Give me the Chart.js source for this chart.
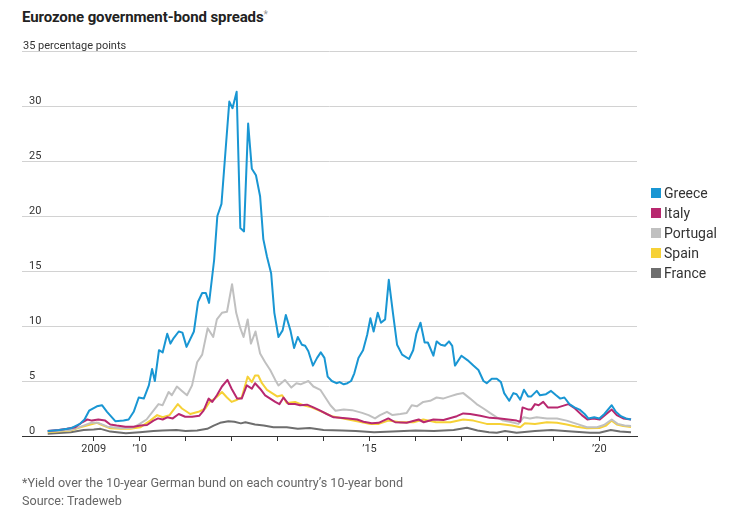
<!DOCTYPE html>
<html>
<head>
<meta charset="utf-8">
<script src="https://cdn.jsdelivr.net/npm/chart.js@4.4.1/dist/chart.umd.min.js"></script>
<style>
  html, body { margin: 0; padding: 0; background: #fff; }
  body { width: 738px; height: 518px; position: relative; overflow: hidden; font-family: Roboto, "Noto Sans", sans-serif; }
  #title { position: absolute; left: 22px; top: 8px; font-size: 15px; font-weight: bold; color: #222; letter-spacing: -0.1px; }
  #title sup { color: #999; font-weight: normal; font-size: 10px; vertical-align: 4px; }
  #chartWrap { position: absolute; left: 0; top: 0; width: 738px; height: 518px; }
  #legend { position: absolute; left: 651px; top: 183px; }
  .li { height: 20px; display: flex; align-items: center; font-size: 14px; color: #333; }
  .sw { width: 10px; height: 10px; margin-right: 3px; }
  #foot { position: absolute; left: 22px; top: 474px; font-size: 12.6px; color: #666; line-height: 18px; }
</style>
</head>
<body>
<div id="title">Eurozone government-bond spreads<sup>*</sup></div>
<div id="chartWrap"><canvas id="c" width="738" height="518"></canvas></div>
<div id="legend"></div>
<div id="foot">*Yield over the 10-year German bund on each country’s 10-year bond<br>Source: Tradeweb</div>
<script>
// ---- Data (years as decimal dates, values in percentage points) ----
const seriesNames = ['Greece', 'Italy', 'Portugal', 'Spain', 'France'];
const seriesColors = ['#1996d3', '#b8286f', '#c0c0c0', '#f6d137', '#6e6e6e'];

const yTickValues = [0, 5, 10, 15, 20, 25, 30, 35];
const yUnitLabel = '35 percentage points';
const xTickYears = [2009, 2010, 2011, 2012, 2013, 2014, 2015, 2016, 2017, 2018, 2019, 2020];
const xTickLabels = {2009: '2009', 2010: '’10', 2015: '’15', 2020: '’20'};

const greeceT = [2008.0, 2008.25, 2008.5, 2008.7, 2008.8, 2008.9, 2009.07, 2009.18, 2009.29, 2009.47, 2009.65, 2009.76, 2009.87, 2009.98, 2010.09, 2010.2, 2010.27, 2010.33, 2010.42, 2010.5, 2010.6, 2010.67, 2010.74, 2010.85, 2010.93, 2011.02, 2011.18, 2011.27, 2011.36, 2011.44, 2011.51, 2011.62, 2011.69, 2011.78, 2011.86, 2011.95, 2012.02, 2012.11, 2012.19, 2012.27, 2012.36, 2012.44, 2012.53, 2012.62, 2012.69, 2012.77, 2012.86, 2012.93, 2013.02, 2013.11, 2013.18, 2013.28, 2013.36, 2013.44, 2013.53, 2013.6, 2013.67, 2013.77, 2013.86, 2013.94, 2014.02, 2014.09, 2014.18, 2014.28, 2014.35, 2014.44, 2014.52, 2014.6, 2014.67, 2014.76, 2014.86, 2014.95, 2015.02, 2015.09, 2015.18, 2015.25, 2015.34, 2015.42, 2015.51, 2015.6, 2015.71, 2015.86, 2015.95, 2016.02, 2016.11, 2016.2, 2016.27, 2016.39, 2016.46, 2016.55, 2016.64, 2016.73, 2016.8, 2016.86, 2017.0, 2017.13, 2017.26, 2017.37, 2017.48, 2017.55, 2017.66, 2017.77, 2017.86, 2017.93, 2018.04, 2018.13, 2018.2, 2018.28, 2018.36, 2018.45, 2018.52, 2018.64, 2018.71, 2018.84, 2018.95, 2019.06, 2019.15, 2019.24, 2019.35, 2019.46, 2019.57, 2019.68, 2019.76, 2019.89, 2020.0, 2020.11, 2020.27, 2020.36, 2020.47, 2020.58, 2020.69];
const greeceV = [0.45, 0.55, 0.7, 1.1, 1.5, 2.3, 2.7, 2.8, 2.2, 1.35, 1.4, 1.5, 2.2, 3.5, 3.4, 4.6, 6.1, 5.0, 7.8, 7.6, 9.3, 8.4, 8.9, 9.5, 9.4, 8.1, 9.5, 12.2, 13.0, 13.0, 12.1, 16.0, 20.0, 21.1, 25.5, 30.4, 29.8, 31.3, 18.9, 18.6, 28.4, 24.3, 23.7, 21.8, 17.9, 16.3, 14.8, 11.2, 9.0, 9.6, 11.0, 9.6, 8.0, 9.0, 8.3, 8.2, 7.7, 6.4, 7.1, 7.6, 7.1, 5.4, 5.0, 4.8, 4.9, 4.7, 4.8, 5.0, 5.7, 7.1, 7.8, 9.2, 10.7, 9.5, 11.2, 10.3, 10.6, 14.2, 11.2, 8.3, 7.4, 7.0, 7.8, 9.3, 10.3, 8.5, 8.5, 7.3, 8.6, 8.3, 8.2, 8.6, 8.2, 6.4, 7.3, 6.9, 6.4, 6.0, 5.0, 4.8, 5.2, 5.2, 4.9, 3.9, 3.2, 3.9, 3.8, 3.3, 4.2, 3.6, 3.6, 4.1, 3.7, 3.8, 4.1, 3.7, 3.4, 3.5, 2.9, 2.6, 2.4, 2.0, 1.6, 1.7, 1.6, 2.0, 2.8, 2.2, 1.8, 1.6, 1.5];

const italyT = [2008.0, 2008.24, 2008.42, 2008.6, 2008.75, 2008.86, 2008.96, 2009.1, 2009.25, 2009.36, 2009.5, 2009.69, 2009.87, 2010.02, 2010.16, 2010.3, 2010.4, 2010.5, 2010.6, 2010.72, 2010.85, 2010.99, 2011.14, 2011.3, 2011.39, 2011.5, 2011.58, 2011.68, 2011.79, 2011.91, 2012.0, 2012.12, 2012.22, 2012.33, 2012.44, 2012.51, 2012.62, 2012.73, 2012.84, 2012.95, 2013.04, 2013.13, 2013.24, 2013.38, 2013.49, 2013.64, 2013.78, 2013.93, 2014.07, 2014.22, 2014.36, 2014.54, 2014.73, 2014.87, 2015.05, 2015.2, 2015.41, 2015.56, 2015.81, 2016.07, 2016.18, 2016.39, 2016.61, 2016.9, 2017.04, 2017.19, 2017.41, 2017.62, 2017.84, 2018.02, 2018.2, 2018.28, 2018.33, 2018.46, 2018.52, 2018.6, 2018.68, 2018.78, 2018.88, 2019.1, 2019.33, 2019.47, 2019.62, 2019.74, 2019.87, 2020.01, 2020.27, 2020.38, 2020.52, 2020.69];
const italyV = [0.45, 0.55, 0.65, 0.8, 1.25, 1.5, 1.4, 1.5, 1.4, 1.05, 0.95, 0.85, 0.85, 0.95, 1.0, 1.4, 1.6, 1.5, 1.7, 1.6, 2.0, 1.75, 1.75, 1.85, 2.3, 3.4, 3.1, 3.7, 4.5, 5.1, 4.3, 3.4, 3.4, 4.6, 4.3, 4.8, 4.3, 3.7, 3.4, 3.1, 2.9, 3.5, 2.9, 2.9, 2.8, 2.85, 2.6, 2.3, 2.0, 1.7, 1.65, 1.6, 1.5, 1.3, 1.15, 1.2, 1.6, 1.25, 1.2, 1.5, 1.25, 1.5, 1.45, 1.8, 2.05, 2.0, 1.85, 1.65, 1.6, 1.5, 1.4, 1.3, 2.6, 2.4, 2.4, 2.9, 2.8, 3.1, 2.6, 2.6, 2.9, 2.5, 1.9, 1.5, 1.6, 1.5, 2.4, 1.9, 1.6, 1.5];

const portugalT = [2008.0, 2008.5, 2008.75, 2008.95, 2009.1, 2009.3, 2009.6, 2009.85, 2010.0, 2010.15, 2010.3, 2010.41, 2010.5, 2010.63, 2010.7, 2010.81, 2010.92, 2011.03, 2011.14, 2011.25, 2011.36, 2011.48, 2011.6, 2011.68, 2011.79, 2011.9, 2012.01, 2012.1, 2012.19, 2012.26, 2012.35, 2012.42, 2012.52, 2012.62, 2012.73, 2012.84, 2012.95, 2013.02, 2013.16, 2013.3, 2013.41, 2013.5, 2013.67, 2013.78, 2013.93, 2014.04, 2014.15, 2014.26, 2014.44, 2014.62, 2014.84, 2014.98, 2015.12, 2015.23, 2015.38, 2015.5, 2015.67, 2015.81, 2015.92, 2016.03, 2016.17, 2016.32, 2016.46, 2016.6, 2016.75, 2016.9, 2017.04, 2017.19, 2017.33, 2017.48, 2017.62, 2017.77, 2017.91, 2018.05, 2018.24, 2018.35, 2018.49, 2018.64, 2018.86, 2019.08, 2019.29, 2019.51, 2019.73, 2019.95, 2020.1, 2020.27, 2020.4, 2020.55, 2020.69];
const portugalV = [0.4, 0.55, 0.9, 1.2, 1.2, 0.85, 0.7, 0.75, 1.1, 1.5, 2.3, 2.9, 2.8, 4.0, 3.7, 4.5, 4.1, 3.7, 4.6, 6.7, 7.4, 9.8, 9.0, 10.6, 11.2, 11.3, 13.8, 11.2, 9.8, 9.0, 10.6, 8.4, 9.5, 7.5, 6.7, 6.0, 5.1, 4.6, 5.1, 4.4, 4.8, 4.7, 5.0, 4.5, 4.2, 3.5, 2.8, 2.3, 2.4, 2.35, 2.1, 1.9, 1.6, 1.9, 2.2, 1.9, 2.0, 2.1, 2.8, 2.7, 3.1, 3.2, 3.5, 3.4, 3.6, 3.8, 3.9, 3.4, 2.9, 2.5, 2.1, 1.7, 1.4, 1.3, 1.1, 1.7, 1.6, 1.7, 1.6, 1.6, 1.4, 1.1, 0.8, 0.8, 1.0, 1.5, 1.1, 0.95, 0.9];

const spainT = [2008.0, 2008.5, 2008.71, 2008.93, 2009.07, 2009.18, 2009.36, 2009.58, 2009.8, 2010.02, 2010.23, 2010.38, 2010.5, 2010.65, 2010.83, 2010.92, 2011.1, 2011.28, 2011.43, 2011.54, 2011.64, 2011.79, 2011.9, 2012.0, 2012.12, 2012.22, 2012.35, 2012.44, 2012.51, 2012.58, 2012.66, 2012.77, 2012.88, 2012.99, 2013.1, 2013.2, 2013.38, 2013.56, 2013.74, 2013.97, 2014.18, 2014.43, 2014.73, 2015.02, 2015.2, 2015.41, 2015.67, 2015.96, 2016.17, 2016.45, 2016.76, 2017.04, 2017.26, 2017.55, 2017.84, 2018.1, 2018.28, 2018.38, 2018.6, 2018.86, 2019.08, 2019.29, 2019.51, 2019.73, 2020.0, 2020.15, 2020.27, 2020.38, 2020.52, 2020.69];
const spainV = [0.35, 0.5, 0.8, 1.05, 1.2, 1.0, 0.7, 0.65, 0.65, 0.8, 1.4, 1.9, 1.7, 1.9, 2.9, 2.5, 2.0, 2.2, 2.5, 3.2, 3.4, 4.0, 3.5, 3.1, 3.3, 3.5, 5.4, 4.9, 5.5, 5.5, 4.8, 4.2, 3.9, 3.6, 3.7, 3.0, 3.1, 2.8, 2.6, 2.2, 1.8, 1.6, 1.35, 1.1, 1.1, 1.4, 1.25, 1.25, 1.5, 1.25, 1.25, 1.5, 1.4, 1.1, 1.1, 0.95, 0.8, 1.15, 1.1, 1.25, 1.2, 1.05, 0.85, 0.7, 0.72, 0.95, 1.4, 1.05, 0.9, 0.82];

const franceT = [2008.0, 2008.5, 2008.78, 2009.0, 2009.15, 2009.36, 2009.7, 2010.0, 2010.3, 2010.5, 2010.8, 2011.0, 2011.25, 2011.47, 2011.61, 2011.75, 2011.93, 2012.06, 2012.2, 2012.3, 2012.51, 2012.7, 2012.91, 2013.2, 2013.44, 2013.7, 2014.0, 2014.4, 2014.7, 2015.1, 2015.5, 2016.0, 2016.4, 2016.83, 2017.12, 2017.35, 2017.6, 2017.77, 2017.95, 2018.2, 2018.6, 2018.96, 2019.4, 2019.8, 2020.0, 2020.25, 2020.45, 2020.69];
const franceV = [0.2, 0.35, 0.55, 0.6, 0.65, 0.4, 0.25, 0.35, 0.45, 0.5, 0.55, 0.45, 0.5, 0.65, 0.95, 1.2, 1.35, 1.3, 1.15, 1.25, 1.05, 0.95, 0.8, 0.8, 0.65, 0.72, 0.55, 0.5, 0.45, 0.35, 0.4, 0.5, 0.45, 0.55, 0.75, 0.5, 0.35, 0.3, 0.45, 0.3, 0.45, 0.55, 0.4, 0.3, 0.3, 0.55, 0.4, 0.35];

// ---- Build datasets ----
const seriesT = [greeceT, italyT, portugalT, spainT, franceT];
const seriesV = [greeceV, italyV, portugalV, spainV, franceV];
const datasets = seriesNames.map((name, i) => ({
  label: name,
  data: seriesT[i].map((t, j) => ({x: t, y: seriesV[i][j]})),
  yAxisID: 'y',
  borderColor: seriesColors[i],
  backgroundColor: seriesColors[i],
  borderWidth: 2,
  pointRadius: 0,
  tension: 0,
  borderJoinStyle: 'round'
}));

// HTML legend
const lg = document.getElementById('legend');
seriesNames.forEach((n, i) => {
  const d = document.createElement('div');
  d.className = 'li';
  d.innerHTML = '<span class="sw" style="background:' + seriesColors[i] + '"></span>' + n;
  lg.appendChild(d);
});

const tickFont = {family: 'Roboto, "Noto Sans", sans-serif', size: 11};
const yMax = yTickValues[yTickValues.length - 1];

new Chart(document.getElementById('c'), {
  type: 'line',
  data: {datasets},
  options: {
    responsive: false,
    animation: false,
    events: [],
    layout: {padding: {left: 22, top: 51, right: 101, bottom: 62}},
    plugins: {legend: {display: false}, tooltip: {enabled: false}},
    scales: {
      x: {
        type: 'linear',
        min: 2007.44,
        max: 2020.82,
        afterBuildTicks: (s) => { s.ticks = xTickYears.map(v => ({value: v})); },
        afterFit: (s) => { s.height = 20; },
        grid: {display: true, drawOnChartArea: false, drawTicks: true, tickLength: 5, color: '#333333', lineWidth: 1},
        border: {display: true, color: '#333333', width: 1},
        ticks: {
          autoSkip: false, maxRotation: 0, padding: 2, color: '#333', font: tickFont,
          callback: (v) => xTickLabels[v] || ''
        }
      },
      y: {
        position: 'left',
        min: 0,
        max: yMax,
        afterBuildTicks: (s) => { s.ticks = yTickValues.map(v => ({value: v})); },
        afterFit: (s) => { s.width = 0; },
        grid: {display: true, color: '#d2d2d2', lineWidth: 1, drawTicks: false},
        border: {display: false},
        ticks: {
          mirror: true, padding: 7, labelOffset: -5, color: '#333', font: tickFont,
          callback: (v) => v === yMax ? '' : String(v)
        }
      },
      yUnit: {
        position: 'left',
        min: 0,
        max: yMax,
        afterBuildTicks: (s) => { s.ticks = [{value: yMax}]; },
        afterFit: (s) => { s.width = 0; },
        grid: {display: false, drawTicks: false},
        border: {display: false},
        ticks: {
          mirror: true, padding: 1, labelOffset: -5, color: '#333', font: tickFont,
          callback: () => yUnitLabel
        }
      }
    }
  }
});
</script>
</body>
</html>
